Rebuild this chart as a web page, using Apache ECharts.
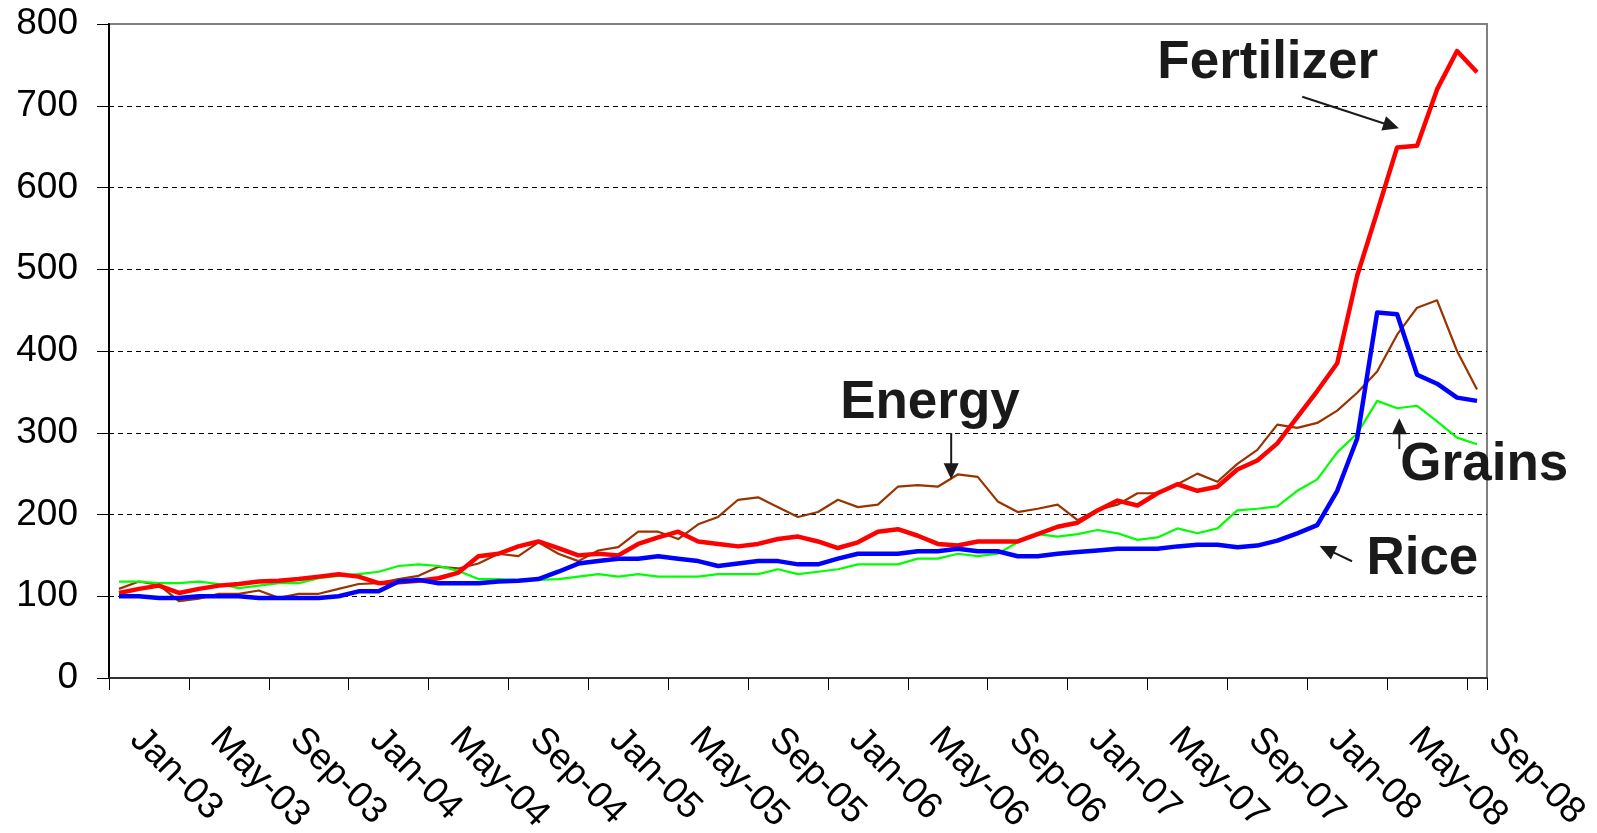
<!DOCTYPE html>
<html>
<head>
<meta charset="utf-8">
<script src="https://cdn.jsdelivr.net/npm/echarts@6/dist/echarts.min.js"></script>
<style>
html,body{margin:0;padding:0;background:#ffffff;}
#chart{width:1597px;height:833px;}
</style>
</head>
<body>
<div id="chart"></div>
<script>
// ---- data ----
const monthNames = ['Jan','Feb','Mar','Apr','May','Jun','Jul','Aug','Sep','Oct','Nov','Dec'];
const yearLabels = ['03','04','05','06','07','08'];
const monthCount = 69; // Jan-03 .. Sep-08
const categories = [];
yearLabels.forEach(function (y) {
  monthNames.forEach(function (m) {
    if (categories.length < monthCount) categories.push(m + '-' + y);
  });
});

const yTicks = [0, 100, 200, 300, 400, 500, 600, 700, 800];

const energy = [109,118,114,94,97,103,103,107,98,103,103,109,
                115,116,121,125,136,134,140,152,149,166,152,143,
                156,160,179,179,170,188,197,218,221,209,197,203,
                218,209,212,234,236,234,249,246,216,203,207,212,
                193,206,212,226,226,237,250,240,262,279,310,306,
                312,327,349,375,420,453,462,400,353];

const grains = [118,118,116,116,118,115,110,113,116,116,122,125,
                127,130,137,139,137,131,121,121,120,120,121,124,
                127,124,127,124,124,124,127,127,127,133,127,130,
                133,139,139,139,146,146,152,149,152,166,176,173,
                176,181,177,169,172,183,177,183,205,207,210,229,
                243,276,299,339,330,333,314,294,286];

const fertilizer = [104,109,113,104,109,113,115,118,119,121,124,127,
                    124,116,117,119,122,129,149,152,161,167,159,150,
                    152,150,164,172,179,167,164,161,164,170,173,167,
                    159,166,179,182,174,164,162,167,167,167,176,185,
                    190,205,217,211,226,237,229,234,255,266,287,319,
                    351,385,492,570,649,651,720,767,741];

const rice = [100,100,98,98,100,100,100,98,98,98,98,100,
              106,106,118,120,116,116,116,118,119,121,130,140,
              143,146,146,149,146,143,137,140,143,143,139,139,
              146,152,152,152,155,155,158,155,155,149,149,152,
              154,156,158,158,158,161,163,163,160,162,168,177,
              187,229,293,447,445,371,360,343,339];

const seriesNames = ['Energy', 'Grains', 'Fertilizer', 'Rice'];

// ---- annotations (placed in data space: [month index, value]) ----
const notes = [
  {label: 'Fertilizer', at: [51.99, 752], from: [59.25, 711], to: [64.09, 672.4], w: 2},
  {label: 'Energy',     at: [36.11, 336], from: [41.67, 299.5], to: [41.67, 243.2], w: 2},
  {label: 'Grains',     at: [64.16, 260], from: [64.11, 280], to: [64.11, 317.8], w: 2},
  {label: 'Rice',       at: [62.46, 144.5], from: [61.74, 142.8], to: [60.12, 161.5], w: 2}
];

const FONT = '"Liberation Sans", Arial, Helvetica, sans-serif';

const chart = echarts.init(document.getElementById('chart'), null, {renderer: 'canvas'});

function lineSeries(name, data, color, width) {
  return {
    name: name, type: 'line', data: data,
    showSymbol: false, symbol: 'none', smooth: false,
    lineStyle: {color: color, width: width, join: 'round'},
    itemStyle: {color: color},
    emphasis: {disabled: true},
    animation: false
  };
}

const option = {
  animation: false,
  backgroundColor: '#ffffff',
  grid: {
    left: 109, right: 110, top: 24, bottom: 155,
    containLabel: false, outerBoundsMode: 'none',
    show: true, borderColor: '#808080', borderWidth: 2, backgroundColor: 'transparent'
  },
  xAxis: {
    type: 'category', data: categories, boundaryGap: true,
    axisLine: {show: true, lineStyle: {color: '#333333', width: 2}},
    axisTick: {show: true, interval: 3, length: 12, alignWithLabel: false, lineStyle: {color: '#000000', width: 1}},
    axisLabel: {show: true, interval: 3, rotate: -45, margin: 39, padding: [0, 0, 0, 24],
                fontSize: 37, fontFamily: FONT, color: '#000000'},
    splitLine: {show: false}
  },
  yAxis: {
    type: 'value', min: yTicks[0], max: yTicks[yTicks.length - 1], interval: yTicks[1] - yTicks[0],
    axisLine: {show: true, lineStyle: {color: '#000000', width: 2}},
    axisTick: {show: true, length: 12, lineStyle: {color: '#000000', width: 1}},
    axisLabel: {margin: 31, fontSize: 37, fontFamily: FONT, color: '#000000'},
    splitLine: {show: true, showMinLine: false, showMaxLine: false, lineStyle: {type: [5, 4], color: '#000000', width: 1}}
  },
  series: [
    lineSeries(seriesNames[0], energy, '#993300', 2.2),
    lineSeries(seriesNames[1], grains, '#00FF00', 2.2),
    lineSeries(seriesNames[2], fertilizer, '#FF0000', 4.5),
    lineSeries(seriesNames[3], rice, '#0000FF', 4.5)
  ]
};

chart.setOption(option);

// convert annotation anchors through the chart's own scales
const x0 = chart.convertToPixel({xAxisIndex: 0}, 0);
const x1 = chart.convertToPixel({xAxisIndex: 0}, 1);
function px(i) { return x0 + (x1 - x0) * i; }
function py(v) { return chart.convertToPixel({yAxisIndex: 0}, v); }

const elements = [];
notes.forEach(function (n) {
  elements.push({
    type: 'text', x: px(n.at[0]), y: py(n.at[1]), z: 100,
    style: {
      text: n.label, font: 'bold 53px ' + FONT, fill: '#1a1a1a',
      textAlign: 'left', align: 'left', textVerticalAlign: 'middle', verticalAlign: 'middle'
    }
  });
  const xa = px(n.from[0]), ya = py(n.from[1]);
  const xb = px(n.to[0]), yb = py(n.to[1]);
  const dx = xb - xa, dy = yb - ya, L = Math.sqrt(dx * dx + dy * dy);
  const ux = dx / L, uy = dy / L;
  const hl = 16, hw = 7.5;
  const bx = xb - ux * hl, by = yb - uy * hl;
  elements.push({
    type: 'line', z: 100,
    shape: {x1: xa, y1: ya, x2: bx + ux * 2, y2: by + uy * 2},
    style: {stroke: '#1a1a1a', lineWidth: n.w}
  });
  elements.push({
    type: 'polygon', z: 100,
    shape: {points: [[xb, yb], [bx - uy * hw, by + ux * hw], [bx + uy * hw, by - ux * hw]]},
    style: {fill: '#1a1a1a'}
  });
});
chart.setOption({graphic: {elements: elements}});
</script>
</body>
</html>
